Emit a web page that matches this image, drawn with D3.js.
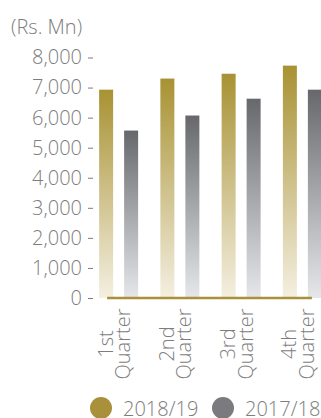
<!DOCTYPE html>
<html>
<head>
<meta charset="utf-8">
<script src="https://cdnjs.cloudflare.com/ajax/libs/d3/7.8.5/d3.min.js"></script>
<style>
  html, body { margin: 0; padding: 0; background: #ffffff; }
  svg { display: block; font-family: "Open Sans", sans-serif; font-weight: 300; }
</style>
</head>
<body>
<svg id="chart" width="321" height="418"></svg>
<script>
// Quarterly figures, Rs. Mn
const quarters = ["1st Quarter", "2nd Quarter", "3rd Quarter", "4th Quarter"];
const seriesNames = ["2018/19", "2017/18"];
const values2018 = [6930, 7300, 7460, 7730];
const values2017 = [5570, 6070, 6630, 6930];
const yTicks = [0, 1000, 2000, 3000, 4000, 5000, 6000, 7000, 8000];
const unitLabel = "(Rs. Mn)";

const textColor = "#7d7d7d";
const fontSize = "20px";
const seriesColors = { "2018/19": "#a8913a", "2017/18": "#7b7b7f" };
const gradStops = {
  "2018/19": ["#a89233", "#f4efe1"],
  "2017/18": ["#67686c", "#e6e7ea"]
};

const svg = d3.select("#chart");

// Vertical gradients for each series
const defs = svg.append("defs");
seriesNames.forEach((s, i) => {
  const g = defs.append("linearGradient")
    .attr("id", "grad" + i)
    .attr("x1", 0).attr("y1", 0).attr("x2", 0).attr("y2", 1);
  g.append("stop").attr("offset", "0%").attr("stop-color", gradStops[s][0]);
  g.append("stop").attr("offset", "100%").attr("stop-color", gradStops[s][1]);
});

const y = d3.scaleLinear().domain([0, 8000]).range([298, 57.5]);
const x0 = d3.scaleBand().domain(quarters).range([88, 333]).padding(0);
const x1 = d3.scaleBand().domain(seriesNames).range([-19.5, 19.5]).paddingInner(0.44).paddingOuter(0);

const rows = quarters.map((q, i) => ({ q, vals: [
  { s: seriesNames[0], v: values2018[i], gi: 0 },
  { s: seriesNames[1], v: values2017[i], gi: 1 }
]}));

// Bars
const groups = svg.append("g").selectAll("g").data(rows).join("g")
  .attr("transform", d => `translate(${x0(d.q) + x0.bandwidth() / 2},0)`);
groups.selectAll("rect").data(d => d.vals).join("rect")
  .attr("x", d => x1(d.s))
  .attr("width", x1.bandwidth())
  .attr("y", d => y(d.v))
  .attr("height", d => y(0) - y(d.v))
  .attr("fill", d => `url(#grad${d.gi})`);

// Baseline rule
const cFirst = x0(quarters[0]) + x0.bandwidth() / 2;
const cLast = x0(quarters[quarters.length - 1]) + x0.bandwidth() / 2;
svg.append("line")
  .attr("x1", cFirst - 11.5).attr("x2", cLast + 9.5)
  .attr("y1", y(0)).attr("y2", y(0))
  .attr("stroke", "#a8913a").attr("stroke-width", 2.6);

// Y axis
const yAxis = svg.append("g").attr("transform", "translate(93,0)")
  .call(d3.axisLeft(y).tickValues(yTicks).tickSize(5).tickPadding(6).tickFormat(d3.format(",")));
yAxis.select(".domain").remove();
yAxis.selectAll("line").attr("stroke", textColor).attr("stroke-width", 1);
yAxis.selectAll("text")
  .attr("fill", textColor)
  .style("font-size", fontSize)
  .style("font-family", "'Open Sans', sans-serif")
  .style("font-weight", 300);

// Unit label
svg.append("text").attr("x", 11).attr("y", 34)
  .attr("fill", textColor).style("font-size", fontSize).text(unitLabel);

// Rotated category labels on two lines
const xl = svg.append("g").selectAll("text").data(quarters).join("text")
  .attr("transform", d => `translate(${x0(d) + x0.bandwidth() / 2},344) rotate(-90)`)
  .attr("text-anchor", "middle")
  .attr("fill", textColor)
  .style("font-size", fontSize);
xl.each(function(d) {
  const parts = d.split(" ");
  const t = d3.select(this);
  t.append("tspan").attr("x", 0).attr("y", -6).text(parts[0]);
  t.append("tspan").attr("x", 0).attr("y", 11.5).text(parts[1]);
});

// Legend
const legendX = [101, 223];
const leg = svg.append("g").selectAll("g").data(seriesNames).join("g")
  .attr("transform", (d, i) => `translate(${legendX[i]},408)`);
leg.append("circle").attr("r", 11).attr("fill", d => seriesColors[d]);
leg.append("text").attr("x", 22).attr("y", 8)
  .attr("fill", textColor).style("font-size", fontSize).text(d => d);
</script>
</body>
</html>
